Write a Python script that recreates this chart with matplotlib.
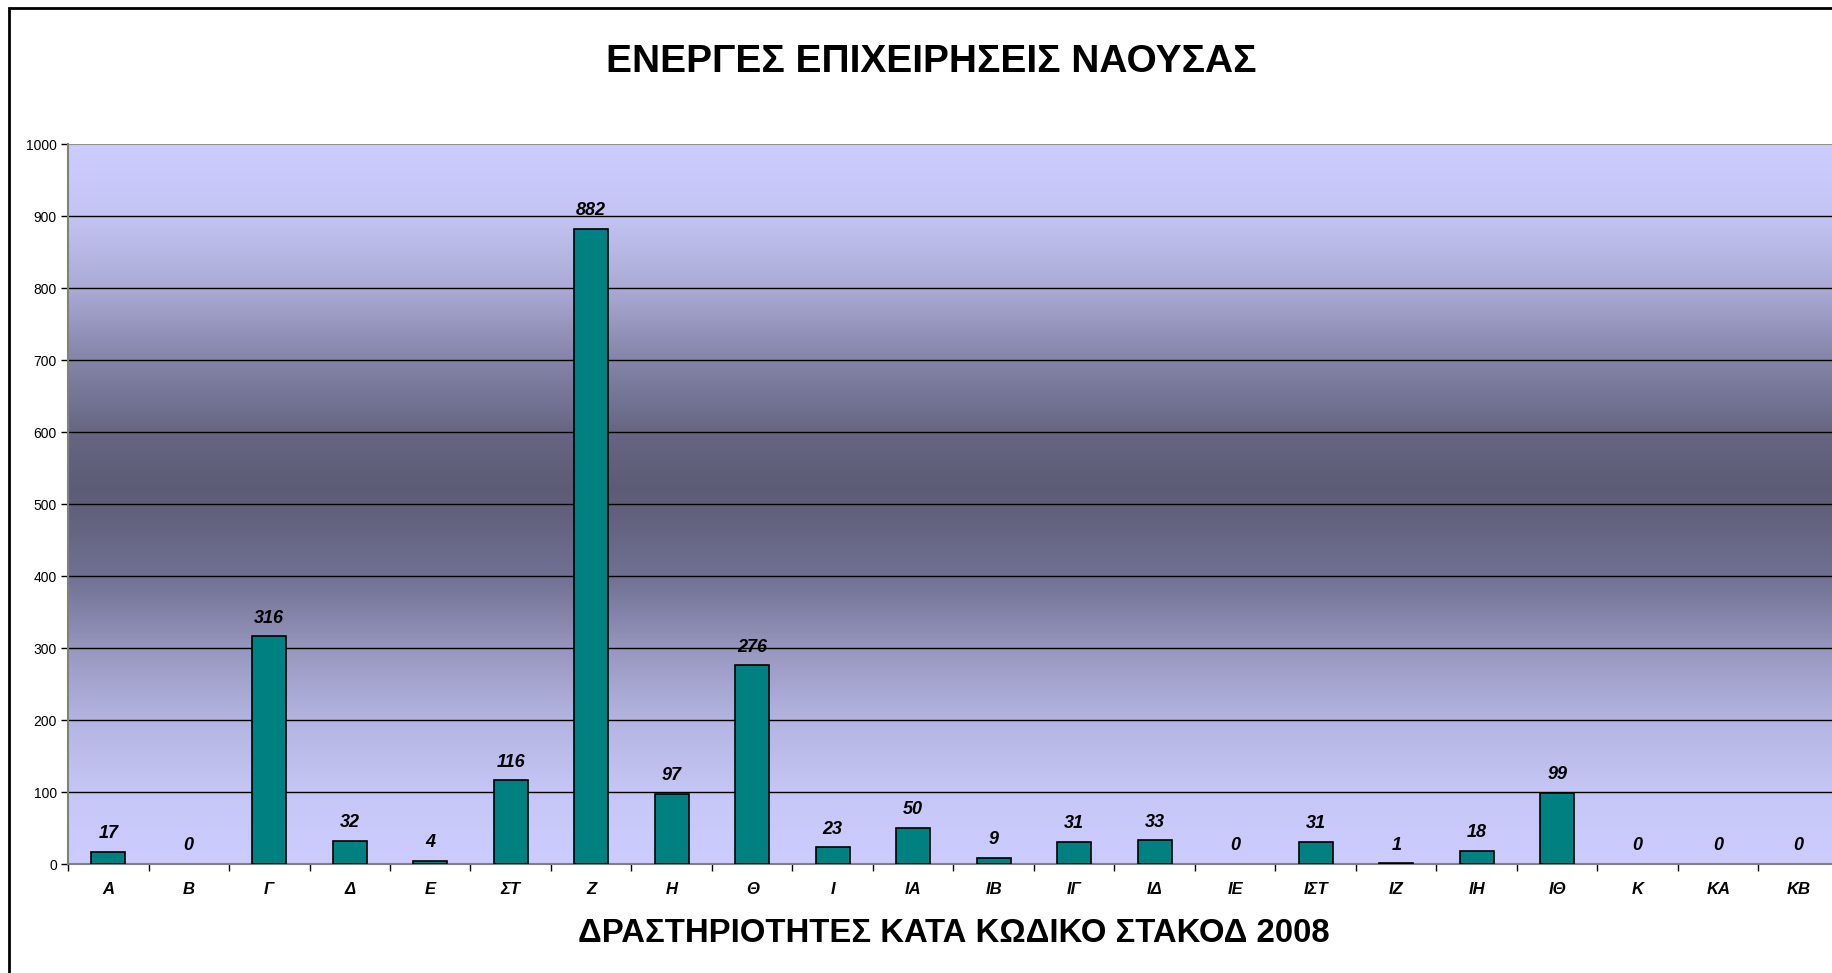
import numpy as np
import matplotlib
matplotlib.use("Agg")
import matplotlib.pyplot as plt
from matplotlib.patches import Rectangle

# ΕΝΕΡΓΕΣ ΕΠΙΧΕΙΡΗΣΕΙΣ ΝΑΟΥΣΑΣ - ανα κωδικο ΣΤΑΚΟΔ 2008
categories = ["Α", "Β", "Γ", "Δ", "Ε", "ΣΤ", "Ζ", "Η", "Θ", "Ι", "ΙΑ",
              "ΙΒ", "ΙΓ", "ΙΔ", "ΙΕ", "ΙΣΤ", "ΙΖ", "ΙΗ", "ΙΘ", "Κ", "ΚΑ", "ΚΒ"]
counts = [17, 0, 316, 32, 4, 116, 882, 97, 276, 23, 50,
          9, 31, 33, 0, 31, 1, 18, 99, 0, 0, 0]
yticks = list(range(0, 1001, 100))

title = "ΕΝΕΡΓΕΣ ΕΠΙΧΕΙΡΗΣΕΙΣ ΝΑΟΥΣΑΣ"
xlabel = "ΔΡΑΣΤΗΡΙΟΤΗΤΕΣ ΚΑΤΑ ΚΩΔΙΚΟ ΣΤΑΚΟΔ 2008"

plt.rcParams["font.family"] = ["Liberation Sans", "DejaVu Sans"]

W, H = 1832, 973
fig = plt.figure(figsize=(W / 100, H / 100), dpi=100)
fig.patch.set_facecolor("white")

# axes runs slightly past the right edge, like the screenshot
ax = fig.add_axes([68 / W, 109 / H, (1839 - 68) / W, (864 - 144) / H])

# background gradient (light lavender -> dark slate around 500 -> light)
stops_y = [0, 100, 200, 300, 400, 520, 600, 700, 800, 900, 1000]
stops_c = np.array([
    [204, 204, 255], [198, 198, 246], [180, 180, 226], [150, 150, 190],
    [112, 112, 146], [92, 92, 118], [102, 102, 131], [132, 132, 168],
    [170, 170, 213], [196, 196, 244], [204, 204, 255]]) / 255.0
yy = np.linspace(0, 1000, 400)
grad = np.stack([np.interp(yy, stops_y, stops_c[:, k]) for k in range(3)], axis=-1)
grad = grad[:, None, :]
ax.imshow(grad, extent=(-0.5, len(categories) - 0.5, 0, 1000), origin="lower",
          aspect="auto", zorder=0, interpolation="bilinear")

x = np.arange(len(categories))
lw = [1.2 if v > 0 else 0 for v in counts]
ax.bar(x, counts, width=0.42, color="#008080", edgecolor="black",
       linewidth=lw, zorder=3)

for xi, v in zip(x, counts):
    ax.annotate(str(v), (xi, v), xytext=(0, 7), textcoords="offset points",
                ha="center", va="bottom", fontsize=13, fontweight="bold",
                fontstyle="italic", zorder=4)

ax.set_xlim(-0.5, len(categories) - 0.5)
ax.set_ylim(0, 1000)
ax.set_yticks(yticks)
ax.set_yticklabels([str(t) for t in yticks], fontsize=10)
ax.set_xticks(x)
ax.set_xticklabels(categories, fontsize=12, fontweight="bold", fontstyle="italic")
ax.tick_params(axis="x", length=0, pad=13)
ax.set_xticks(np.arange(-0.5, len(categories), 1), minor=True)
ax.tick_params(axis="x", which="minor", length=5, width=1, color="black", direction="out")
ax.tick_params(axis="y", length=5, width=1, direction="out", pad=3)

for t in yticks[1:-1]:
    ax.axhline(t, color="black", linewidth=1.0, zorder=1)
ax.axhline(1000, color="#909090", linewidth=1.5, zorder=1)

for s in ["top", "right"]:
    ax.spines[s].set_visible(False)
ax.spines["left"].set_color("#808080")
ax.spines["left"].set_linewidth(1.5)
ax.spines["bottom"].set_color("#808080")
ax.spines["bottom"].set_linewidth(1.5)

fig.text(931 / W, 1 - 62 / H, title, ha="center", va="center",
         fontsize=28, fontweight="bold")
fig.text(954 / W, 1 - 934 / H, xlabel, ha="center", va="center",
         fontsize=23.7, fontweight="bold")

# outer chart border (cut at right and bottom)
fig.patches.append(Rectangle((9 / W, -0.1), 1.2, 1.1 - 8 / H, transform=fig.transFigure,
                             fill=False, edgecolor="black", linewidth=2))

fig.savefig("out.png", dpi=100)
